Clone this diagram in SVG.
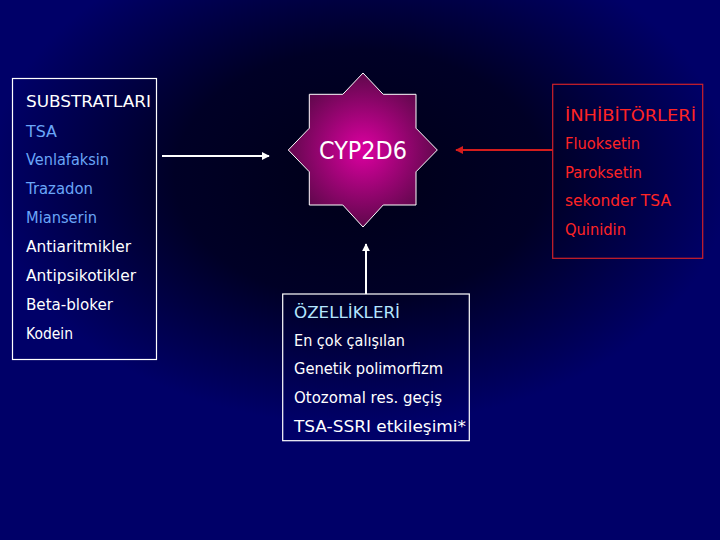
<svg xmlns="http://www.w3.org/2000/svg" width="720" height="540" viewBox="0 0 720 540">
<defs>
<radialGradient id="bg" cx="0" cy="0" r="1" gradientUnits="userSpaceOnUse" gradientTransform="translate(360 175) scale(370 250)">
<stop offset="0" stop-color="#000018"/>
<stop offset="0.5" stop-color="#000026"/>
<stop offset="0.8" stop-color="#00004e"/>
<stop offset="1" stop-color="#000068"/>
</radialGradient>
<radialGradient id="star" cx="363" cy="150" r="80" gradientUnits="userSpaceOnUse">
<stop offset="0" stop-color="#dc00a0"/>
<stop offset="1" stop-color="#5a0848"/>
</radialGradient>
<marker id="aw" viewBox="0 0 10 10" refX="9" refY="5" markerWidth="4" markerHeight="4" orient="auto" markerUnits="strokeWidth">
<path d="M0,0 L10,5 L0,10 z" fill="#ffffff"/>
</marker>
<marker id="ar" viewBox="0 0 10 10" refX="9" refY="5" markerWidth="4" markerHeight="4" orient="auto" markerUnits="strokeWidth">
<path d="M0,0 L10,5 L0,10 z" fill="#d41c1c"/>
</marker>
</defs>
<style>
text { font-family: "DejaVu Sans", "Liberation Sans", sans-serif; font-size: 15px; }
.w { fill: #ffffff; }
.b { fill: #6aa6f8; }
.c { fill: #b4e6ff; }
.r { fill: #ff2424; }
.box { fill: none; stroke: #ffffff; stroke-width: 1.2; }
.rbox { fill: none; stroke: #d02028; stroke-width: 1.2; }
</style>
<rect x="0" y="0" width="720" height="540" fill="url(#bg)"/>

<g id="connectors">
<line x1="162" y1="156" x2="269" y2="156" stroke="#ffffff" stroke-width="2" marker-end="url(#aw)"/>
<line x1="553" y1="150" x2="456" y2="150" stroke="#d41c1c" stroke-width="2" marker-end="url(#ar)"/>
<line x1="366" y1="294" x2="366" y2="244" stroke="#ffffff" stroke-width="2" marker-end="url(#aw)"/>
</g>

<g id="substratlari">
<rect class="box" x="12.5" y="78.5" width="144" height="281"/>
<text class="w" x="26" y="107" textLength="125" lengthAdjust="spacingAndGlyphs">SUBSTRATLARI</text>
<text class="b" x="26" y="136.5" textLength="31" lengthAdjust="spacingAndGlyphs">TSA</text>
<text class="b" x="26" y="165" textLength="83" lengthAdjust="spacingAndGlyphs">Venlafaksin</text>
<text class="b" x="26" y="194" textLength="67" lengthAdjust="spacingAndGlyphs">Trazadon</text>
<text class="b" x="26" y="223" textLength="71" lengthAdjust="spacingAndGlyphs">Mianserin</text>
<text class="w" x="26" y="252" textLength="105" lengthAdjust="spacingAndGlyphs">Antiaritmikler</text>
<text class="w" x="26" y="281" textLength="110" lengthAdjust="spacingAndGlyphs">Antipsikotikler</text>
<text class="w" x="26" y="309.5" textLength="87" lengthAdjust="spacingAndGlyphs">Beta-bloker</text>
<text class="w" x="26" y="338.5" textLength="47" lengthAdjust="spacingAndGlyphs">Kodein</text>
</g>

<g id="cyp2d6">
<path d="M363,73 L383.2,94.3 L416,94.3 L416,128.2 L437.3,150 L416,171.8 L416,205 L383.2,205 L363,227 L342.8,205 L309.3,205 L309.3,171.8 L288.3,150 L309.3,128.2 L309.3,94.3 L342.8,94.3 Z" fill="url(#star)" stroke="#ffffff" stroke-width="1"/>
<text class="w" x="363" y="159" text-anchor="middle" style="font-size:24px" textLength="88" lengthAdjust="spacingAndGlyphs">CYP2D6</text>
</g>

<g id="inhibitorleri">
<rect class="rbox" x="552.7" y="84.3" width="150" height="174"/>
<text class="r" x="565" y="120.5" textLength="131" lengthAdjust="spacingAndGlyphs">İNHİBİTÖRLERİ</text>
<text class="r" x="565" y="149" textLength="75" lengthAdjust="spacingAndGlyphs">Fluoksetin</text>
<text class="r" x="565" y="177.5" textLength="77" lengthAdjust="spacingAndGlyphs">Paroksetin</text>
<text class="r" x="565" y="206" textLength="106" lengthAdjust="spacingAndGlyphs">sekonder TSA</text>
<text class="r" x="565" y="235" textLength="61" lengthAdjust="spacingAndGlyphs">Quinidin</text>
</g>

<g id="ozellikleri">
<rect class="box" x="282.7" y="294" width="186.6" height="146.7"/>
<text class="c" x="294" y="317.5" textLength="106" lengthAdjust="spacingAndGlyphs">ÖZELLİKLERİ</text>
<text class="w" x="294" y="345.5" textLength="111" lengthAdjust="spacingAndGlyphs">En çok çalışılan</text>
<text class="w" x="294" y="374" textLength="149" lengthAdjust="spacingAndGlyphs">Genetik polimorfizm</text>
<text class="w" x="294" y="402.5" textLength="148" lengthAdjust="spacingAndGlyphs">Otozomal res. geçiş</text>
<text class="w" x="294" y="431.5" textLength="172" lengthAdjust="spacingAndGlyphs">TSA-SSRI etkileşimi*</text>
</g>
</svg>
